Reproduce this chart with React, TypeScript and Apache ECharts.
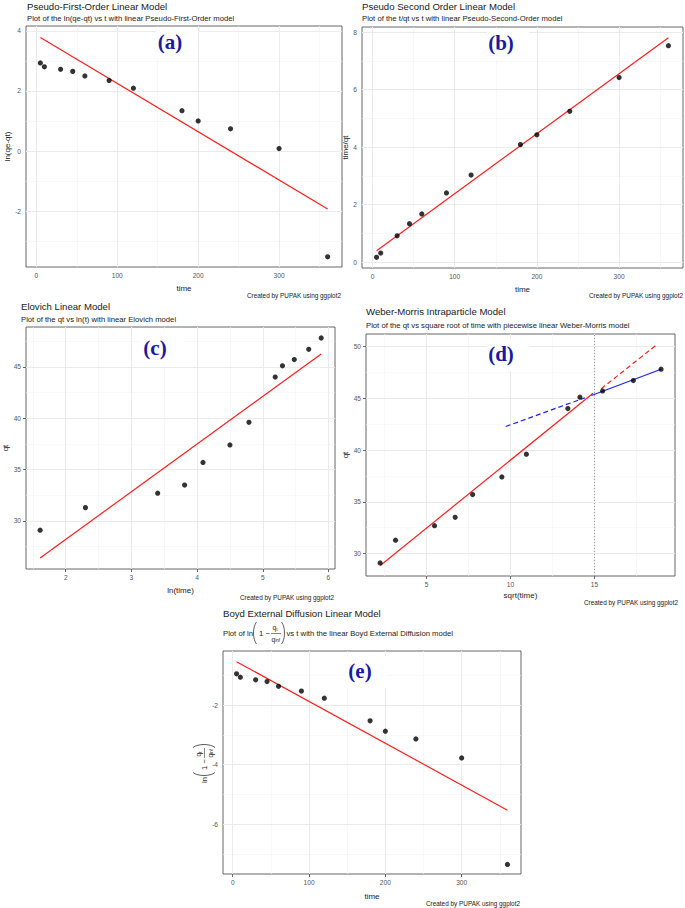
import React, { useEffect, useRef } from "react";
import * as echarts from "echarts";

// ---------- data ----------
const time = [5, 10, 30, 45, 60, 90, 120, 180, 200, 240, 300, 360];
const lnQeQt = [2.93, 2.8, 2.72, 2.65, 2.5, 2.35, 2.09, 1.34, 1.0, 0.74, 0.08, -3.52];
const tOverQt = [0.17, 0.32, 0.92, 1.34, 1.68, 2.41, 3.03, 4.09, 4.43, 5.25, 6.42, 7.53];
const lnTime = [1.61, 2.3, 3.4, 3.81, 4.09, 4.5, 4.79, 5.19, 5.3, 5.48, 5.7, 5.89];
const sqrtTime = [2.24, 3.16, 5.48, 6.71, 7.75, 9.49, 10.95, 13.42, 14.14, 15.49, 17.32, 18.97];
const qt = [29.1, 31.3, 32.7, 33.5, 35.7, 37.4, 39.6, 44.0, 45.1, 45.7, 46.7, 47.8];
const boydY = [-0.94, -1.05, -1.14, -1.2, -1.36, -1.52, -1.76, -2.52, -2.87, -3.13, -3.77, -7.36];

// fitted lines (end points)
const aFitX = [5, 360];
const aFitY = [3.78, -1.93];
const bFitX = [5, 360];
const bFitY = [0.4, 7.81];
const cFitX = [1.61, 5.89];
const cFitY = [26.4, 46.25];
const dRedX = [2.25, 14.92];
const dRedY = [28.85, 45.48];
const dRedDashX = [15.41, 18.66];
const dRedDashY = [45.92, 50.1];
const dBlueX = [14.82, 18.97];
const dBlueY = [45.26, 47.8];
const dBlueDashX = [9.72, 14.43];
const dBlueDashY = [42.27, 45.04];
const dBreak = [15];
const eFitX = [5, 360];
const eFitY = [-0.53, -5.53];

// ticks
const aXTicks = [0, 100, 200, 300];
const aXMinor = [50, 150, 250, 350];
const aYTicks = [-2, 0, 2, 4];
const aYMinor = [-3, -1, 1, 3];
const bXTicks = [0, 100, 200, 300];
const bXMinor = [50, 150, 250, 350];
const bYTicks = [0, 2, 4, 6, 8];
const bYMinor = [1, 3, 5, 7];
const cXTicks = [2, 3, 4, 5, 6];
const cXMinor = [1.5, 2.5, 3.5, 4.5, 5.5];
const cYTicks = [30, 35, 40, 45];
const cYMinor = [27.5, 32.5, 37.5, 42.5, 47.5];
const dXTicks = [5, 10, 15];
const dXMinor = [2.5, 7.5, 12.5, 17.5];
const dYTicks = [30, 35, 40, 45, 50];
const dYMinor = [32.5, 37.5, 42.5, 47.5];
const eXTicks = [0, 100, 200, 300];
const eXMinor = [50, 150, 250, 350];
const eYTicks = [-6, -4, -2];
const eYMinor = [-7, -5, -3, -1];

const titles = [
  "Pseudo-First-Order Linear Model",
  "Pseudo Second Order Linear Model",
  "Elovich Linear Model",
  "Weber-Morris Intraparticle Model",
  "Boyd External Diffusion Linear Model",
];
const subtitles = [
  "Plot of the ln(qe-qt) vs t with linear Pseudo-First-Order model",
  "Plot of the t/qt vs t with linear Pseudo-Second-Order model",
  "Plot of the qt vs ln(t) with linear Elovich model",
  "Plot of the qt vs square root of time with piecewise linear Weber-Morris model",
];
const caption = "Created by PUPAK using ggplot2";
const panelLabels = ["(a)", "(b)", "(c)", "(d)", "(e)"];

// ---------- styling ----------
const FONT = '"Liberation Sans", Arial, sans-serif';
const SERIF = '"Liberation Serif", "Times New Roman", serif';
const TXT = "#1a1a1a";
const TITLE_SIZE = 9.6;
const SUB_SIZE = 7.7;

const zip = (xs: number[], ys: number[]) => xs.map((x, i) => [x, ys[i]]);

function axis(i: number, min: number, max: number, ticks: number[], name: string, gap: number) {
  return {
    type: "value",
    gridIndex: i,
    min,
    max,
    name,
    nameLocation: "middle",
    nameGap: gap,
    nameTextStyle: { fontFamily: FONT, fontSize: 8, color: "#222222" },
    axisLine: { show: false, lineStyle: { color: "#222222" } },
    axisTick: { show: true, length: 3, lineStyle: { color: "#444", width: 0.8 }, customValues: ticks },
    axisLabel: { customValues: ticks, fontFamily: FONT, fontSize: 6.6, color: "#555", margin: 5 },
    splitLine: { show: false },
  };
}

const majorStyle = { color: "#EBEBEB", width: 1, type: "solid" };
const minorStyle = { color: "#F3F3F3", width: 0.6, type: "solid" };

function gridLines(i: number, xMaj: number[], xMin: number[], yMaj: number[], yMin: number[], extra: any[] = []) {
  return {
    type: "line",
    xAxisIndex: i,
    yAxisIndex: i,
    data: [],
    silent: true,
    z: 1,
    markLine: {
      silent: true,
      z: 1,
      symbol: ["none", "none"],
      label: { show: false },
      animation: false,
      data: [
        ...xMin.map((v) => ({ xAxis: v, lineStyle: minorStyle })),
        ...yMin.map((v) => ({ yAxis: v, lineStyle: minorStyle })),
        ...xMaj.map((v) => ({ xAxis: v, lineStyle: majorStyle })),
        ...yMaj.map((v) => ({ yAxis: v, lineStyle: majorStyle })),
        ...extra,
      ],
    },
  };
}

function scatter(i: number, xs: number[], ys: number[]) {
  return {
    type: "scatter",
    xAxisIndex: i,
    yAxisIndex: i,
    data: zip(xs, ys),
    symbolSize: 5.2,
    itemStyle: { color: "#000" },
    z: 6,
  };
}
function fit(i: number, xs: number[], ys: number[], color: string, dashed = false) {
  return {
    type: "line",
    xAxisIndex: i,
    yAxisIndex: i,
    data: zip(xs, ys),
    showSymbol: false,
    symbol: "none",
    lineStyle: { color, width: 1.2, type: dashed ? [5, 3] : "solid" },
    z: 5,
  };
}

function txt(text: string, x: number, y: number, size: number, opts: any = {}) {
  return {
    type: "text",
    z: 20,
    style: {
      text,
      x,
      y,
      fontSize: size,
      fontFamily: FONT,
      fill: TXT,
      align: "left",
      verticalAlign: "middle",
      ...opts,
    },
  };
}

// formula ln(1 - q_t / q_inf) laid out along local x axis
function formula(prefix: string, w: number, suffix?: string) {
  const s = SUB_SIZE;
  const parenStyle = { stroke: "#333", lineWidth: 0.8, fill: "none" };
  const ch: any[] = [txt(prefix, 0, 0, s)];
  ch.push({
    type: "bezierCurve",
    z: 20,
    shape: { x1: w + 4.5, y1: -11, x2: w + 4.5, y2: 11, cpx1: w + 0.5, cpy1: -6, cpx2: w + 0.5, cpy2: 6 },
    style: parenStyle,
  });
  ch.push(txt("1 \u2212", w + 7, 0, s));
  const f = w + 19;
  ch.push(txt("q", f + 1.5, -5.5, 6.5));
  ch.push(txt("t", f + 5.3, -4, 4.5));
  ch.push({ type: "line", z: 20, shape: { x1: f, y1: 0.5, x2: f + 10, y2: 0.5 }, style: { stroke: "#333", lineWidth: 0.6 } });
  ch.push(txt("q", f + 0.5, 6.2, 6.5));
  ch.push(txt("inf", f + 4.3, 7.8, 4.5));
  ch.push({
    type: "bezierCurve",
    z: 20,
    shape: { x1: f + 10.5, y1: -11, x2: f + 10.5, y2: 11, cpx1: f + 14.5, cpy1: -6, cpx2: f + 14.5, cpy2: 6 },
    style: parenStyle,
  });
  if (suffix) ch.push(txt(suffix, f + 15.5, 0, s));
  return ch;
}

function label(text: string, cx: number, cy: number) {
  return [
    { type: "rect", z: 15, shape: { x: cx - 14, y: cy - 15, width: 42, height: 32 }, style: { fill: "#fff" } },
    {
      type: "text",
      z: 16,
      style: {
        text,
        x: cx,
        y: cy,
        fontSize: 21,
        fontFamily: SERIF,
        fontWeight: "bold",
        fill: "#1a1aa0",
        align: "center",
        verticalAlign: "middle",
      },
    },
  ];
}

export default function App() {
  const ref = useRef<HTMLDivElement>(null);
  useEffect(() => {
    if (!ref.current) return;
    const chart = echarts.init(ref.current, undefined, { renderer: "svg" });
    const gridBase = { show: true, borderColor: "#666", borderWidth: 1, backgroundColor: "transparent", containLabel: false };
    const option: any = {
      animation: false,
      grid: [
        { ...gridBase, left: 26, top: 26, width: 316, height: 241 },
        { ...gridBase, left: 362, top: 27, width: 321, height: 241 },
        { ...gridBase, left: 21, top: 327, width: 314, height: 242 },
        { ...gridBase, left: 366, top: 334, width: 309, height: 242 },
        { ...gridBase, left: 223, top: 651, width: 298, height: 223 },
      ],
      xAxis: [
        axis(0, -12.75, 377.75, aXTicks, "time", 17),
        axis(1, -12.75, 377.75, bXTicks, "time", 17),
        axis(2, 1.395, 6.1, cXTicks, "ln(time)", 17),
        axis(3, 1.4, 19.8, dXTicks, "sqrt(time)", 15),
        axis(4, -12.75, 377.75, eXTicks, "time", 18),
      ],
      yAxis: [
        axis(0, -3.86, 4.16, aYTicks, "ln(qe-qt)", 15),
        axis(1, -0.2, 8.18, bYTicks, "time/qt", 12),
        axis(2, 25.33, 48.87, cYTicks, "qt", 17),
        axis(3, 27.84, 51.2, dYTicks, "qt", 16),
        axis(4, -7.68, -0.17, eYTicks, "", 15),
      ],
      series: [
        gridLines(0, aXTicks, aXMinor, aYTicks, aYMinor),
        gridLines(1, bXTicks, bXMinor, bYTicks, bYMinor),
        gridLines(2, cXTicks, cXMinor, cYTicks, cYMinor),
        gridLines(3, dXTicks, dXMinor, dYTicks, dYMinor, dBreak.map((v) => ({
          xAxis: v,
          lineStyle: { color: "#999", width: 1, type: [1, 2] },
        }))),
        gridLines(4, eXTicks, eXMinor, eYTicks, eYMinor),
        fit(0, aFitX, aFitY, "#FF2020"),
        scatter(0, time, lnQeQt),
        fit(1, bFitX, bFitY, "#FF2020"),
        scatter(1, time, tOverQt),
        fit(2, cFitX, cFitY, "#FF2020"),
        scatter(2, lnTime, qt),
        fit(3, dRedX, dRedY, "#FF2020"),
        fit(3, dRedDashX, dRedDashY, "#FF2020", true),
        fit(3, dBlueX, dBlueY, "#2020FF"),
        fit(3, dBlueDashX, dBlueDashY, "#2020FF", true),
        scatter(3, sqrtTime, qt),
        fit(4, eFitX, eFitY, "#FF2020"),
        scatter(4, time, boydY),
      ],
      graphic: [
        // titles
        txt(titles[0], 27, 6, TITLE_SIZE),
        txt(subtitles[0], 27, 18, SUB_SIZE),
        txt(titles[1], 362, 6, TITLE_SIZE),
        txt(subtitles[1], 362, 18, SUB_SIZE),
        txt(titles[2], 21, 306, TITLE_SIZE),
        txt(subtitles[2], 21, 319, SUB_SIZE),
        txt(titles[3], 366, 311, TITLE_SIZE),
        txt(subtitles[3], 366, 325, SUB_SIZE),
        txt(titles[4], 223, 613, TITLE_SIZE),
        { type: "group", x: 223, y: 633, children: formula("Plot of ln", 29, "vs t with the linear Boyd External Diffusion model") },
        { type: "group", x: 204, y: 783, rotation: Math.PI / 2, children: formula("ln", 6) },
        // captions
        txt(caption, 341, 295, 6.4, { align: "right" }),
        txt(caption, 683, 295, 6.4, { align: "right" }),
        txt(caption, 334, 597, 6.4, { align: "right" }),
        txt(caption, 678, 602, 6.4, { align: "right" }),
        txt(caption, 520, 903, 6.4, { align: "right" }),
        // panel labels
        ...label(panelLabels[0], 170, 42),
        ...label(panelLabels[1], 501, 43),
        ...label(panelLabels[2], 155, 348),
        ...label(panelLabels[3], 501, 354),
        ...label(panelLabels[4], 360, 671),
      ],
    };
    chart.setOption(option);
    return () => chart.dispose();
  }, []);
  return (
    <div
      ref={ref}
      style={{ position: "absolute", left: 0, top: 0, width: 685, height: 908, background: "#fff" }}
    />
  );
}
